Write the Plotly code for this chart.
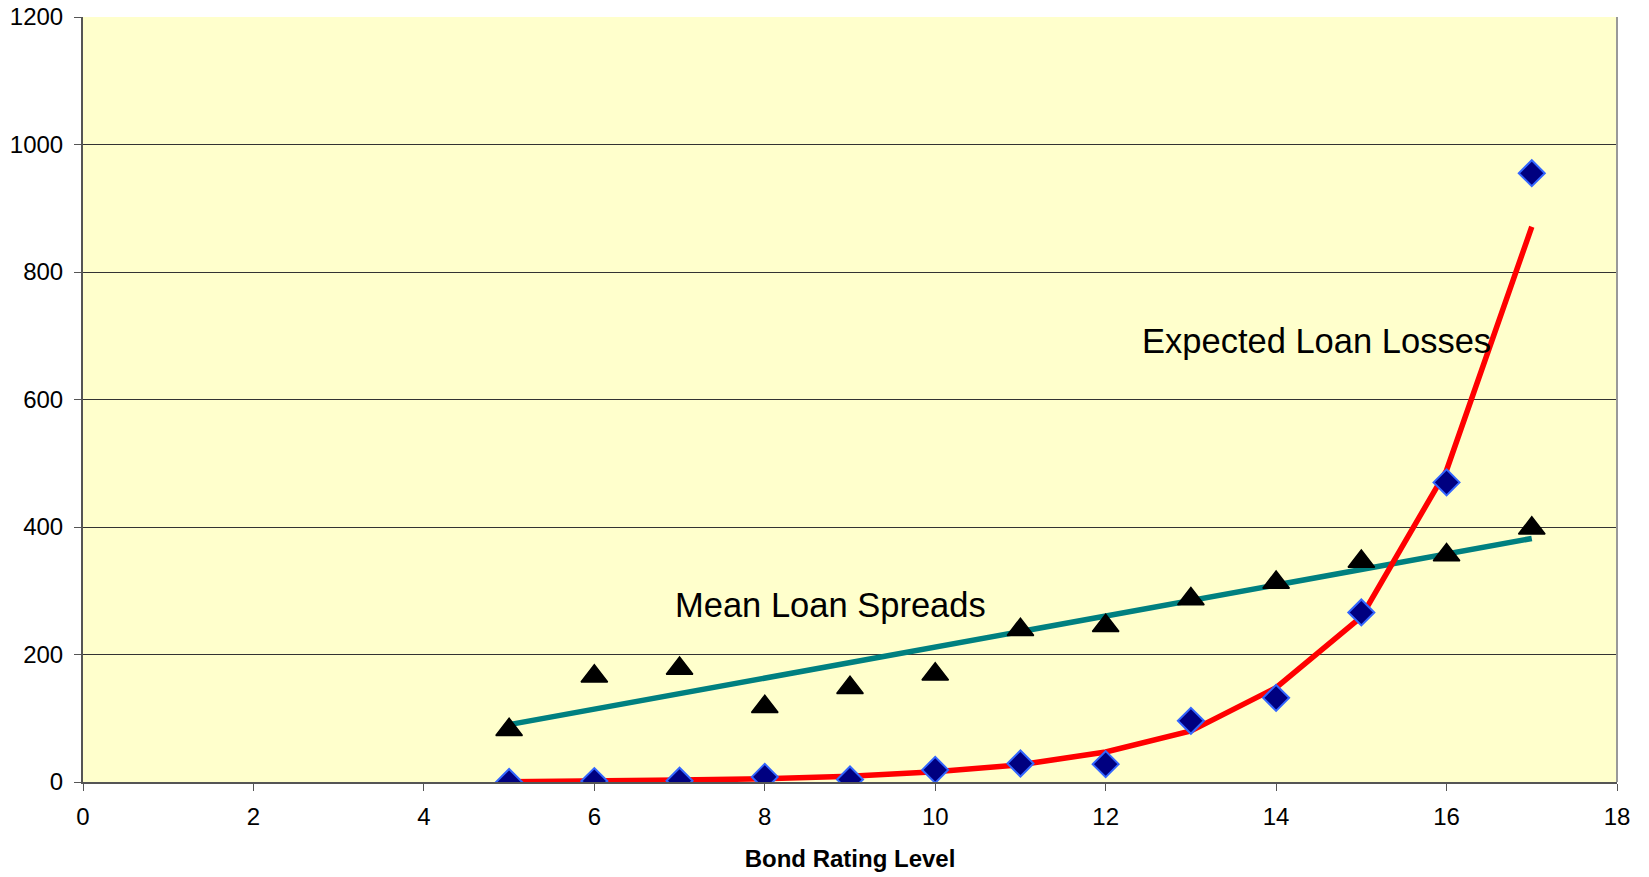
import plotly.graph_objects as go

# Bond rating levels (x axis)
ratings = [5, 6, 7, 8, 9, 10, 11, 12, 13, 14, 15, 16, 17]

# Mean loan spreads (basis points) per rating level
mean_spreads = [82, 166, 178, 118, 148, 169, 239, 245, 287, 313, 346, 356, 398]

# Linear trend through the spreads (end points)
spread_trend_x = [5, 17]
spread_trend_y = [90, 382]

# Expected loan losses per rating level
loan_losses = [0, 1.5, 2, 8, 4, 19, 29, 28, 96, 132, 266, 470, 955]

# Exponential-style fit of the expected losses, evaluated at each level
loss_trend = [0.5, 1, 3, 5, 9, 16, 27, 47, 80, 148, 259, 489, 871]

x_ticks = [0, 2, 4, 6, 8, 10, 12, 14, 16, 18]
y_ticks = [0, 200, 400, 600, 800, 1000, 1200]

FONT = "Liberation Sans, Arial, sans-serif"

fig = go.Figure()

fig.add_trace(go.Scatter(
    x=spread_trend_x, y=spread_trend_y, mode="lines",
    line=dict(color="#008080", width=5.5), hoverinfo="skip", showlegend=False,
))
fig.add_trace(go.Scatter(
    x=ratings, y=loss_trend, mode="lines",
    line=dict(color="#FF0000", width=5.5), hoverinfo="skip", showlegend=False,
))
fig.add_trace(go.Scatter(
    x=ratings, y=mean_spreads, mode="markers",
    marker=dict(symbol="triangle-up", size=23, color="#000000",
                line=dict(color="#000000", width=1.5)),
    showlegend=False,
))
fig.add_trace(go.Scatter(
    x=ratings, y=loan_losses, mode="markers",
    marker=dict(symbol="diamond", size=20, color="#000080",
                line=dict(color="#3366FF", width=2)),
    showlegend=False,
))

fig.add_annotation(x=6.92, y=277, text="Mean Loan Spreads", showarrow=False,
                   xanchor="left", yanchor="middle",
                   font=dict(family=FONT, size=34.5, color="#000000"))
fig.add_annotation(x=12.40, y=692, text="Expected Loan Losses", showarrow=False,
                   xanchor="left", yanchor="middle",
                   font=dict(family=FONT, size=34.5, color="#000000"))

fig.update_layout(
    width=1649, height=877,
    margin=dict(l=83, r=32, t=17, b=95),
    paper_bgcolor="#FFFFFF",
    plot_bgcolor="#FFFFCC",
    font=dict(family=FONT, size=24, color="#000000"),
    xaxis=dict(
        range=[0, 18], tickvals=x_ticks, ticktext=[str(v) for v in x_ticks],
        showgrid=False, zeroline=False, automargin=False,
        showline=True, linecolor="#555555", linewidth=2, mirror=False,
        ticks="outside", ticklen=7, tickcolor="#555555", tickwidth=1,
        tickfont=dict(size=24), ticklabelstandoff=5,
        title=dict(text="<b>Bond Rating Level</b>", font=dict(size=24), standoff=21),
    ),
    yaxis=dict(
        range=[0, 1200], tickvals=y_ticks, ticktext=[str(v) for v in y_ticks],
        showgrid=True, gridcolor="#333333", gridwidth=1, zeroline=False,
        automargin=False,
        showline=True, linecolor="#555555", linewidth=2,
        ticks="outside", ticklen=7, tickcolor="#555555", tickwidth=1,
        tickfont=dict(size=24), ticklabelstandoff=6,
    ),
    shapes=[
        dict(type="line", xref="paper", yref="paper", x0=1, x1=1, y0=0, y1=1,
             line=dict(color="#999999", width=2)),
    ],
)

fig.write_html("out.html")
